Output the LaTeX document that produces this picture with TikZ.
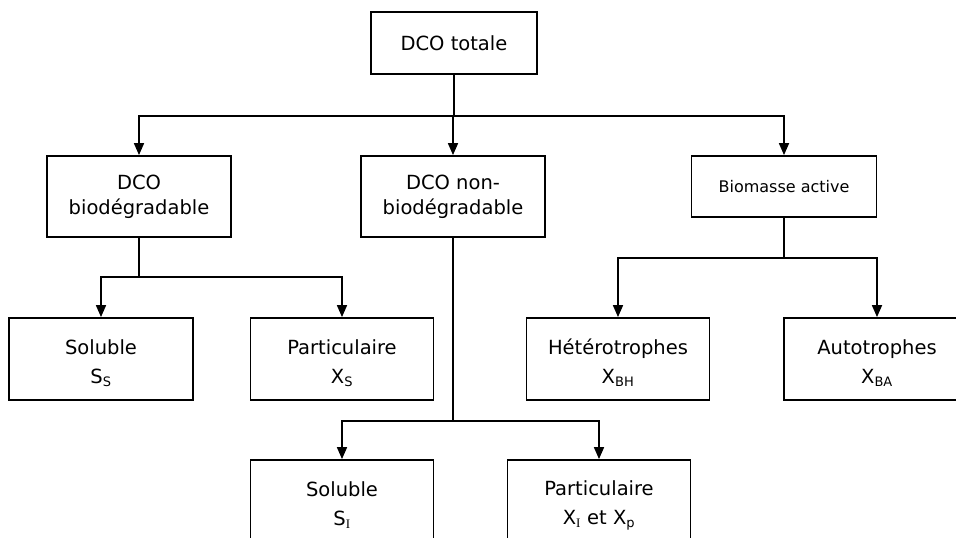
\documentclass[tikz,border=0pt]{standalone}
\usepackage{fontspec}
\setmainfont{DejaVu Sans}
\newfontfamily\serfont{Liberation Serif}
\usetikzlibrary{arrows.meta}
\tikzset{
  box/.style={draw=black, line width=1.8pt, fill=white, align=center, inner sep=0pt,
              font=\fontsize{19.5}{25}\selectfont},
  arr/.style={draw=black, line width=1.7pt, -{Triangle[length=12pt,width=10pt]}},
  ln/.style={draw=black, line width=1.7pt}
}
\newcommand{\sbs}[1]{\textsubscript{\fontsize{13}{13}\selectfont #1}}
\newcommand{\lowr}{\rule{0pt}{23pt}}
\begin{document}
\begin{tikzpicture}[x=1pt,y=-1pt]
\useasboundingbox (0,0) rectangle (956,538);
\clip (0,0) rectangle (956,538);
\fill[white] (0,0) rectangle (956,538);
% nodes
\node[box, minimum width=166pt, minimum height=62pt] (tot) at (454,43) {DCO totale};
\node[box, minimum width=184pt, minimum height=81pt] (bio) at (139,196.5) {DCO\\biodégradable};
\node[box, minimum width=184pt, minimum height=81pt] (nbio) at (453,196.5) {DCO non-\\biodégradable};
\node[box, minimum width=185pt, minimum height=61pt, font=\fontsize{16}{18}\selectfont] (biom) at (784,186.5) {Biomasse active};
\node[box, minimum width=184pt, minimum height=82pt] (ss) at (101,359) {\lowr Soluble\\[4pt]S\sbs{S}};
\node[box, minimum width=183pt, minimum height=82pt] (xs) at (342,359) {\lowr Particulaire\\[4pt]X\sbs{S}};
\node[box, minimum width=183pt, minimum height=82pt] (het) at (618,359) {\lowr Hétérotrophes\\[4pt]X\sbs{BH}};
\node[box, minimum width=186pt, minimum height=82pt] (aut) at (877,359) {\lowr Autotrophes\\[4pt]X\sbs{BA}};
\node[box, minimum width=183pt, minimum height=82pt] (si) at (342,501) {\lowr Soluble\\[4pt]S\sbs{\serfont I}};
\node[box, minimum width=183pt, minimum height=82pt] (xi) at (599,501) {\lowr Particulaire\\[4pt]X\sbs{\serfont I} et X\sbs{p}};
% junction coordinates
\coordinate (h1) at (0,116);
\coordinate (h2) at (0,277);
\coordinate (h3) at (0,258);
\coordinate (h4) at (0,421);
% connectors
\draw[ln] (tot.south) -- (tot.south |- h1);
\draw[arr] (tot.south |- h1) -| (bio.north);
\draw[arr] (tot.south |- h1) -| (biom.north);
\draw[arr] (nbio.north |- h1) -- (nbio.north);
\draw[ln] (bio.south) -- (bio.south |- h2);
\draw[arr] (bio.south |- h2) -| (ss.north);
\draw[arr] (bio.south |- h2) -| (xs.north);
\draw[ln] (biom.south) -- (biom.south |- h3);
\draw[arr] (biom.south |- h3) -| (het.north);
\draw[arr] (biom.south |- h3) -| (aut.north);
\draw[ln] (nbio.south) -- (nbio.south |- h4);
\draw[arr] (nbio.south |- h4) -| (si.north);
\draw[arr] (nbio.south |- h4) -| (xi.north);
\end{tikzpicture}
\end{document}
